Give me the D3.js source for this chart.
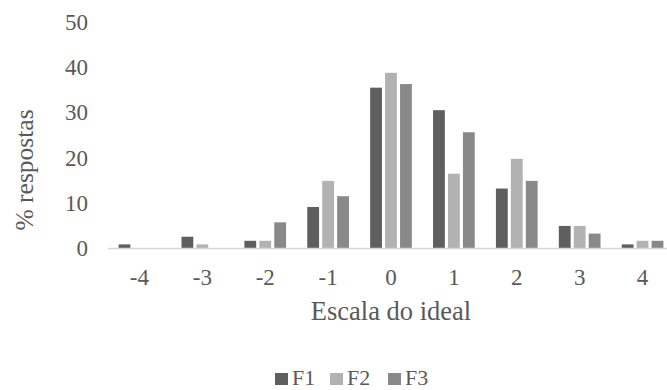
<!DOCTYPE html>
<html>
<head>
<meta charset="utf-8">
<script src="https://cdn.jsdelivr.net/npm/d3@7"></script>
<style>
  html, body { margin: 0; padding: 0; background: #fff; }
  svg { display: block; }
</style>
</head>
<body>
<svg id="chart" width="667" height="390"></svg>
<script>
// Response distribution on the ideal scale, per group
const categories = ["-4", "-3", "-2", "-1", "0", "1", "2", "3", "4"];
const seriesNames = ["F1", "F2", "F3"];
const valuesF1 = [0.8, 2.5, 1.6, 9.1, 35.6, 30.6, 13.2, 4.9, 0.8];
const valuesF2 = [0, 0.8, 1.6, 14.9, 38.9, 16.5, 19.8, 4.9, 1.6];
const valuesF3 = [0, 0, 5.7, 11.5, 36.4, 25.7, 14.9, 3.2, 1.6];
const yTicks = [0, 10, 20, 30, 40, 50];
const colors = ["#5f5f5f", "#b2b2b2", "#898989"];

const FONT = '"Liberation Serif"';
const TEXT_COLOR = "#595959";

const series = [valuesF1, valuesF2, valuesF3];
const rows = categories.map((c, i) => ({
  cat: c,
  vals: seriesNames.map((s, j) => ({ key: s, value: series[j][i] }))
}));

const svg = d3.select("#chart");

function label(sel, size) {
  return sel.style("font-family", FONT).style("font-size", size + "px").style("fill", TEXT_COLOR);
}

const x = d3.scaleBand().domain(categories).range([108, 674]).paddingInner(0.337).paddingOuter(0.1685);
const xs = d3.scaleBand().domain(seriesNames).range([0, x.bandwidth()]).paddingInner(0.21).paddingOuter(0);
const y = d3.scaleLinear().domain([0, 50]).range([248, 22.8]);

// y tick labels (no gridlines)
label(svg.append("g").selectAll("text").data(yTicks).join("text"), 23)
  .attr("x", 88).attr("y", d => y(d)).attr("dy", "0.33em")
  .attr("text-anchor", "end")
  .text(d => d);

// bars
const groups = svg.append("g").selectAll("g").data(rows).join("g")
  .attr("transform", d => `translate(${x(d.cat)},0)`);
groups.selectAll("rect").data(d => d.vals.filter(v => v.value > 0)).join("rect")
  .attr("x", d => xs(d.key))
  .attr("width", xs.bandwidth())
  .attr("y", d => y(d.value))
  .attr("height", d => y(0) - y(d.value))
  .attr("fill", d => colors[seriesNames.indexOf(d.key)]);

// x axis line
svg.append("line")
  .attr("x1", x.range()[0]).attr("x2", x.range()[1])
  .attr("y1", y(0) + 0.5).attr("y2", y(0) + 0.5)
  .attr("stroke", "#d9d9d9").attr("stroke-width", 1.3);

// x tick labels
label(svg.append("g").selectAll("text").data(categories).join("text"), 23)
  .attr("x", d => x(d) + x.bandwidth() / 2).attr("y", 285)
  .attr("text-anchor", "middle")
  .text(d => d);

// axis titles
label(svg.append("text"), 26.5)
  .attr("x", 391).attr("y", 320)
  .attr("text-anchor", "middle")
  .text("Escala do ideal");
label(svg.append("text"), 25.5)
  .attr("transform", "translate(33,170) rotate(-90)")
  .attr("text-anchor", "middle")
  .text("% respostas");

// legend
const legendX = [275, 330, 388];
const legend = svg.append("g").selectAll("g").data(seriesNames).join("g")
  .attr("transform", (d, i) => `translate(${legendX[i]},379)`);
legend.append("rect").attr("x", 0).attr("y", -6).attr("width", 13).attr("height", 12)
  .attr("fill", (d, i) => colors[i]);
label(legend.append("text"), 22)
  .attr("x", 17).attr("y", 6)
  .text(d => d);
</script>
</body>
</html>
